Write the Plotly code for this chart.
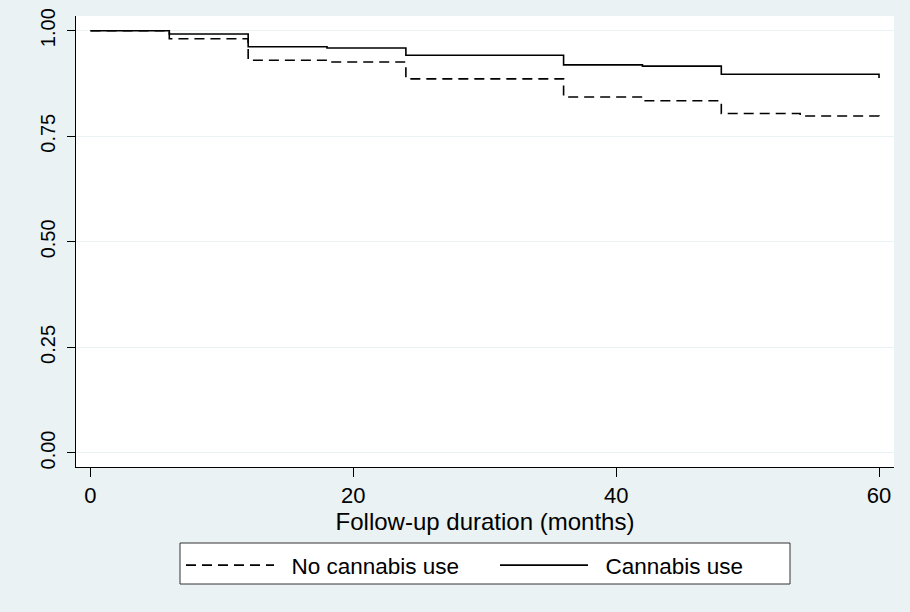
import plotly.graph_objects as go

# Kaplan-Meier step data (months, survival)
time_no = [0, 6, 12, 18, 24, 36, 42, 48, 54, 60]
surv_no = [1.0, 0.981, 0.930, 0.926, 0.886, 0.843, 0.834, 0.804, 0.798, 0.787]

time_yes = [0, 6, 12, 18, 24, 36, 42, 48, 60]
surv_yes = [1.0, 0.992, 0.962, 0.959, 0.942, 0.919, 0.916, 0.897, 0.888]

x_ticks = [0, 20, 40, 60]
y_ticks = [0.0, 0.25, 0.5, 0.75, 1.0]
y_tick_labels = ["0.00", "0.25", "0.50", "0.75", "1.00"]

BG = "#EAF2F3"
FONT = "Arial, Liberation Sans, sans-serif"

# plot area in px: left 76, right 894, top 16, bottom 467
PW, PH = 818.0, 451.0
def px_x(p):
    return (p - 76) / PW
def px_y(p):
    return (467 - p) / PH

fig = go.Figure()
fig.add_trace(go.Scatter(
    x=time_no, y=surv_no, mode="lines", line_shape="hv",
    name="&nbsp;&nbsp;No cannabis use", legend="legend",
    line=dict(color="black", width=1.6, dash="10px,6px"),
))
fig.add_trace(go.Scatter(
    x=time_yes, y=surv_yes, mode="lines", line_shape="hv",
    name="&nbsp;&nbsp;Cannabis use", legend="legend2",
    line=dict(color="black", width=1.6),
))

leg_common = dict(
    orientation="h", yanchor="top", xanchor="left",
    bgcolor="rgba(0,0,0,0)", borderwidth=0,
    font=dict(size=22.5), itemwidth=88,
)

fig.update_layout(
    width=910, height=612,
    paper_bgcolor=BG, plot_bgcolor="white",
    margin=dict(l=76, r=16, t=16, b=145, autoexpand=False),
    font=dict(family=FONT, size=20, color="black"),
    showlegend=True,
    legend=dict(x=px_x(181), y=px_y(544), **leg_common),
    legend2=dict(x=px_x(495), y=px_y(544), **leg_common),
    shapes=[dict(
        type="rect", xref="paper", yref="paper", layer="below",
        x0=px_x(180), x1=px_x(790), y0=px_y(584), y1=px_y(543),
        fillcolor="white", line=dict(color="#333333", width=1),
    )],
)

fig.update_xaxes(
    range=[-1.10, 61.14], tickvals=x_ticks, ticks="outside", ticklen=9,
    tickcolor="black", showline=True, linecolor="black", linewidth=1,
    showgrid=False, zeroline=False,
    title=dict(text="Follow-up duration (months)", font=dict(size=24), standoff=4),
    tickfont=dict(size=22),
)
fig.update_yaxes(
    range=[-0.0332, 1.0348], tickvals=y_ticks, ticktext=y_tick_labels,
    ticks="outside", ticklen=8, tickcolor="black", tickangle=-90,
    ticklabelstandoff=4,
    showline=True, linecolor="black", linewidth=1,
    showgrid=True, gridcolor=BG, gridwidth=1, zeroline=False,
    tickfont=dict(size=20),
)

fig.write_html("out.html", config={"displayModeBar": False},
               post_script="document.body.style.margin='0';")
